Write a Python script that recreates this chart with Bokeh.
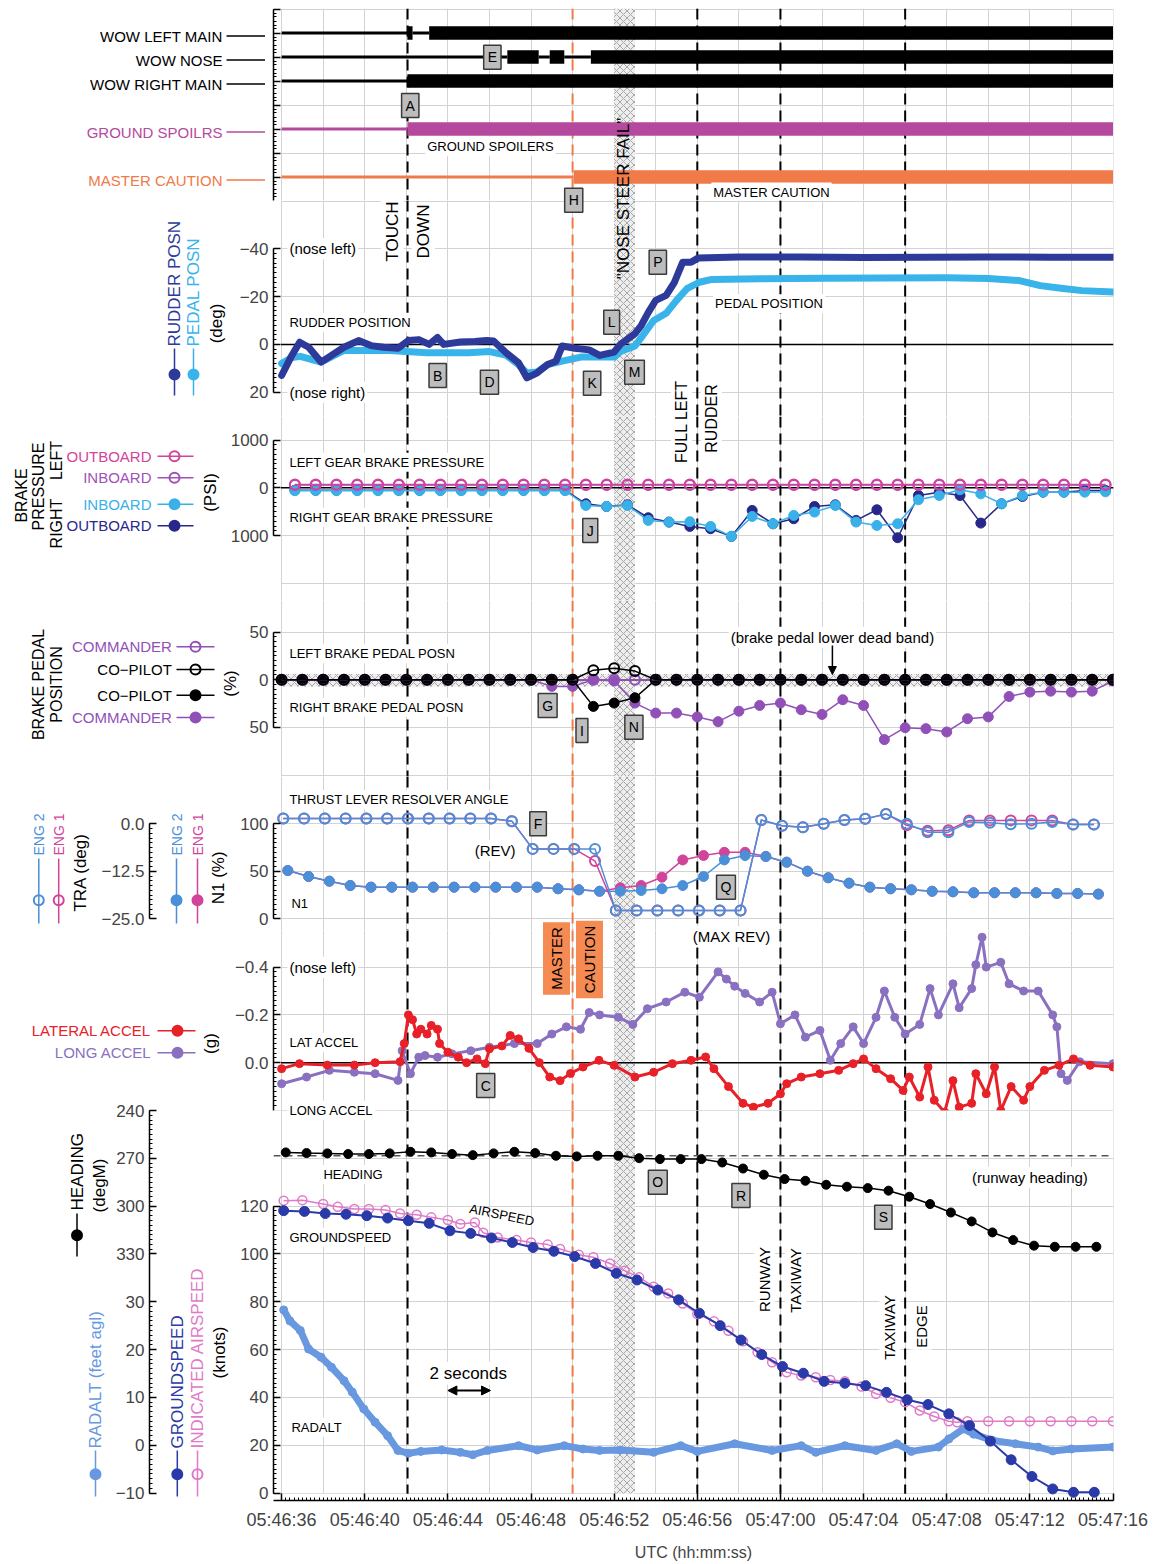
import math
import numpy as np
from bokeh.plotting import figure
from bokeh.layouts import column
from bokeh.models import (Range1d, LinearAxis, FixedTicker, Grid, Label, Span,
                          BoxAnnotation, Arrow, NormalHead, ColumnDataSource)
from bokeh.embed import file_html
from bokeh.resources import INLINE

# =============================== DATA ===============================
TIME_TICKS = [0, 4, 8, 12, 16, 20, 24, 28, 32, 36, 40]          # seconds after 05:46:36
TIME_LABELS = ["05:46:36", "05:46:40", "05:46:44", "05:46:48", "05:46:52", "05:46:56",
               "05:47:00", "05:47:04", "05:47:08", "05:47:12", "05:47:16"]

TOUCHDOWN_T = 6.06
MASTER_CAUTION_T = 14.0
FULL_LEFT_RUDDER_T = 20.0
RUNWAY_TAXIWAY_T = 24.0
TAXIWAY_EDGE_T = 30.0
NOSE_STEER_FAIL_T = (16.0, 17.0)

# discrete parameters: segment edges (s) and state per segment (0 = off/air, 1 = on/ground)
WOW_LEFT_EDGES = [0, 6.05, 6.3, 7.1, 40]
WOW_LEFT_STATE = [0, 1, 0, 1]
WOW_NOSE_EDGES = [0, 10.86, 12.37, 12.9, 13.6, 14.88, 40]
WOW_NOSE_STATE = [0, 1, 0, 1, 0, 1]
WOW_RIGHT_EDGES = [0, 6.05, 40]
WOW_RIGHT_STATE = [0, 1]
SPOILER_EDGES = [0, 6.05, 40]
SPOILER_STATE = [0, 1]
MC_EDGES = [0, 14.05, 40]
MC_STATE = [0, 1]

# rudder / pedal position (deg, + = nose right)
RUDDER_T = [0, 0.45, 0.87, 1.3, 1.9, 2.4, 3.0, 3.7, 4.3, 4.9, 5.6, 6.1, 6.6, 7.1, 7.5, 7.8,
            8.6, 9.3, 9.85, 10.2, 10.8, 11.4, 11.8, 12.3, 12.8, 13.2, 13.5, 14.1, 14.8, 15.3,
            16.0, 16.3, 16.99, 17.3, 17.65, 18.0, 18.5, 18.9, 19.3, 19.7, 20.05, 22, 25, 28,
            31, 34, 37, 40]
RUDDER_DEG = [13, 5.3, -0.9, 1.2, 7.4, 4.6, 1.2, -1.6, 0.5, 1.2, 1.6, -1.6, -2, 0, -2.9, 0,
              -1, -1.2, -1.6, -1.4, 3.5, 7.7, 14, 11.9, 8.4, 7, 0.7, 1.6, 2.3, 4.6,
              3.2, 0, -4.4, -7.9, -13.5, -18.4, -20.5, -26, -34.4, -34.4, -36.2, -36.6, -36.6,
              -36.4, -36.5, -36.6, -36.5, -36.5]
PEDAL_T = [0, 0.5, 0.9, 1.9, 3.0, 4.0, 5.0, 6.0, 7.0, 8.0, 9.0, 10.0, 10.8, 11.4, 11.8, 12.3,
           12.8, 13.5, 14.4, 15.3, 16.0, 16.3, 16.99, 17.3, 17.9, 18.5, 19.0, 19.5, 20.1, 20.7,
           23, 26, 29, 32, 34, 35.5, 36.5, 37.5, 38.5, 40]
PEDAL_DEG = [8, 5.5, 5, 7.4, 2.5, 2.5, 2.5, 3, 3.5, 3.5, 3.5, 3, 4.5, 8.5, 12, 11.5,
             8.5, 7, 5.3, 5.3, 5.3, 3, 0.7, -2.8, -10, -13, -18.4, -23.3, -26, -27.2,
             -27.5, -27.7, -27.8, -27.9, -27.6, -26.7, -24.6, -23.5, -22.5, -21.9]

# brake pressure (psi), sampled once per second
BRAKE_T = list(np.arange(40) + 0.64)
L_OUTBOARD_PSI = [70, 70, 70, 70, 70, 70, 70, 70, 70, 70, 70, 70, 70, 70, 70, 70, 70, 70, 70, 70,
                  70, 70, 70, 70, 70, 70, 70, 70, 70, 70, 70, 70, 70, 70, 70, 70, 70, 70, 70, 70]
L_INBOARD_PSI = [60, 60, 60, 60, 60, 60, 60, 60, 60, 60, 60, 60, 60, 60, 60, 60, 60, 60, 60, 60,
                 60, 60, 60, 60, 60, 60, 60, 60, 60, 60, 60, 60, 60, 60, 60, 60, 60, 60, 60, 60]
R_INBOARD_PSI = [60, 60, 60, 60, 60, 60, 60, 60, 60, 60, 60, 60, 60, 60,
                 370, 391, 370, 683, 718, 711, 809, 1018, 600, 753, 579, 509, 370, 718, 788, 753,
                 251, 161, 42, 126, 335, 161, 91, 91, 91, 84]
R_OUTBOARD_PSI = [50, 50, 50, 50, 50, 50, 50, 50, 50, 50, 50, 50, 50, 50,
                  335, 391, 356, 627, 718, 809, 857, 1018, 474, 753, 648, 391, 356, 683, 460, 1046,
                  161, 91, 161, 739, 335, 182, 91, 91, 56, 56]

# brake pedal position (%), sampled once per second
PEDAL_POS_T = list(np.arange(41) + 0.0)
L_CMDR_PCT = [0] * 41
L_COPILOT_PCT = [0, 0, 0, 0, 0, 0, 0, 0, 0, 0, 0, 0, 0, 0, 0, 10, 12, 9, 0, 0, 0,
                 0, 0, 0, 0, 0, 0, 0, 0, 0, 0, 0, 0, 0, 0, 0, 0, 0, 0, 0, 0]
R_COPILOT_PCT = [0, 0, 0, 0, 0, 0, 0, 0, 0, 0, 0, 0, 0, 0, 0, 28, 24.5, 19, 0, 0, 0,
                 0, 0, 0, 0, 0, 0, 0, 0, 0, 0, 0, 0, 0, 0, 0, 0, 0, 0, 0, 0]
R_CMDR_PCT = [0, 0, 0, 0, 0, 0, 0, 0, 0, 0, 0, 0, 0, 7, 7, 0, 1.4, 24.5, 35, 35, 39,
              44, 33, 27, 24.5, 31.5, 36.4, 21, 27, 62.8, 50.3, 51.3, 54.8, 40.9, 39, 17.6,
              13, 12, 13, 12, 1.4]

# thrust lever resolver angle (deg) and N1 (%)
TRA_T = list(np.arange(40) + 0.08)
TRA_ENG1 = [1.4, 1.4, 1.4, 1.4, 1.4, 1.4, 1.4, 1.4, 1.4, 1.4, 1.4, 0.7, -6.6, -6.6, -6.6, -9.8,
            -22.8, -22.8, -22.8, -22.8, -22.8, -22.8, -22.8, 1.0, -0.5, -0.9, 0, 1.0, 1.3, 2.6,
            -0.4, -1.8, -1.7, 0.9, 0.9, 0.9, 0.9, 0.9, -0.2, -0.2]
TRA_ENG2 = [1.4, 1.4, 1.4, 1.4, 1.4, 1.4, 1.4, 1.4, 1.4, 1.4, 1.4, 0.7, -6.6, -6.6, -6.6, -6.6,
            -22.8, -22.8, -22.8, -22.8, -22.8, -22.8, -22.8, 1.0, -0.5, -0.9, 0, 1.0, 1.3, 2.6,
            0, -2.2, -2.2, 0.5, 0.3, -0.1, 0.0, 0.5, -0.2, -0.2]
N1_T = list(np.arange(40) + 0.3)
N1_ENG1 = [50.8, 44.5, 39.6, 35, 33.3, 33.3, 33.3, 33.3, 33.3, 33.3, 33.3, 33.3, 33.3, 31.6,
           30.5, 29, 32.6, 35, 43.8, 62, 66.6, 70, 70, 65.6, 59.6, 50.1, 43.2, 37.5, 33.3, 31.6,
           30.5, 29, 28.4, 27.4, 27.4, 27.4, 27.4, 26.7, 26.7, 26]
N1_ENG2 = [50.8, 44.5, 39.6, 35, 33.3, 33.3, 33.3, 33.3, 33.3, 33.3, 33.3, 33.3, 33.3, 31.6,
           30.5, 29, 29, 29.8, 31.6, 35, 44.5, 62, 66.6, 65.6, 59.6, 50.1, 43.2, 37.5, 33.3, 31.6,
           30.5, 29, 28.4, 27.4, 27.4, 27.4, 27.4, 26.7, 26.7, 26]

# accelerations (g)
LAT_T = [0, 0.86, 2.2, 3.5, 4.5, 5.7, 5.9, 6.1, 6.3, 6.5, 6.7, 7.0, 7.2, 7.5, 7.6, 8.0, 8.5,
         8.9, 9.4, 9.8, 10.0, 10.6, 11.0, 11.4, 11.9, 12.4, 12.9, 13.4, 13.9, 14.5, 15.27, 16.0,
         17.0, 17.9, 18.8, 19.7, 20.4, 20.8, 21.5, 22.2, 22.7, 23.4, 24.0, 24.3, 25.0, 25.9,
         26.8, 27.5, 28.0, 28.6, 29.3, 29.9, 30.2, 30.7, 31.1, 31.4, 31.9, 32.3, 32.6, 33.2,
         33.4, 33.9, 34.3, 34.6, 35.1, 35.7, 36.0, 36.7, 37.4, 38.1, 38.9, 40.0]
LAT_G = [0.025, 0.004, 0.01, 0.01, 0, -0.004, -0.08, -0.2, -0.18, -0.12, -0.14, -0.12, -0.156,
         -0.14, -0.08, -0.044, -0.023, 0, -0.016, 0.004, -0.058, -0.07, -0.114, -0.1, -0.06, 0,
         0.06, 0.075, 0.045, 0.018, -0.01, 0.011, 0.06, 0.04, 0.004, -0.01, -0.024, 0.025, 0.1,
         0.17, 0.186, 0.17, 0.13, 0.088, 0.06, 0.046, 0.032, 0.004, -0.016, 0.025, 0.067, 0.116,
         0.06, 0.144, 0.018, 0.157, 0.207, 0.075, 0.186, 0.17, 0.046, 0.13, 0.018, 0.2, 0.1,
         0.157, 0.1, 0.032, 0.011, -0.016, 0.011, 0.018]
LONG_T = [0, 1.2, 2.3, 3.5, 4.5, 5.6, 5.8, 6.2, 6.6, 6.9, 7.5, 8.2, 9.1, 10.0, 11.2, 12.3, 13.0,
          13.7, 14.38, 14.8, 15.3, 16.2, 16.9, 17.6, 18.5, 19.4, 20.1, 21.0, 21.4, 21.8, 22.3,
          23.0, 23.6, 24.0, 24.7, 25.2, 25.9, 26.4, 26.9, 27.5, 28.0, 28.6, 29.0, 29.5, 30.0,
          30.7, 31.2, 31.6, 32.3, 32.6, 33.2, 33.4, 33.7, 33.9, 34.6, 35.0, 35.7, 36.4, 37.1,
          37.3, 37.5, 37.8, 38.4, 40.0]
LONG_G = [0.088, 0.06, 0.032, 0.04, 0.046, 0.074, -0.05, 0.046, -0.023, -0.03, -0.023, -0.037,
          -0.05, -0.065, -0.08, -0.08, -0.12, -0.15, -0.14, -0.21, -0.2, -0.19, -0.16, -0.226,
          -0.254, -0.295, -0.274, -0.38, -0.35, -0.32, -0.29, -0.254, -0.295, -0.163, -0.2,
          -0.107, -0.135, -0.01, -0.08, -0.15, -0.08, -0.19, -0.3, -0.19, -0.12, -0.16, -0.31,
          -0.2, -0.33, -0.23, -0.31, -0.41, -0.525, -0.40, -0.42, -0.33, -0.3, -0.3, -0.2,
          -0.15, 0.046, 0.074, -0.004, 0.004]

# heading (degM)
HDG_T = list(np.arange(40) + 0.2)
HDG_DEG = [266.3, 266.7, 266.9, 267.3, 267.3, 266.9, 265.9, 266.3, 267.3, 268, 266.9, 265.9,
           266.7, 268.4, 268.8, 268.4, 268.4, 269.9, 270.5, 270.5, 270.5, 272.6, 276.4, 280.3,
           283, 284.1, 286.6, 287.8, 288.7, 290.3, 294.1, 298.7, 304, 309.6, 316.5, 321.3,
           324.8, 325.5, 325.5, 325.5]
RUNWAY_HDG = 268.4

# groundspeed / indicated airspeed (knots), radio altitude (ft)
GS_T = list(np.arange(40) + 0.1)
GS_KT = [118.1, 117.8, 116.9, 116.6, 116, 115, 113.9, 112.8, 109.7, 108.6, 106.7, 104.8, 102.7,
         101.1, 98.9, 96, 91.9, 89.1, 84.9, 80.8, 75.2, 70, 64, 57.9, 52.9, 50.1, 46.7, 45.9,
         44.9, 42.1, 39, 37, 33.1, 28.2, 21.7, 13.9, 6.9, 1.7, 0.3, 0.3]
IAS_T = [0.1, 1.0, 2.0, 2.7, 3.5, 4.2, 5.0, 5.7, 6.5, 7.2, 8.0, 8.6, 9.3, 9.7, 10.4, 11.3, 12.0,
         12.8, 13.4, 14.3, 15.0, 15.8, 16.5, 17.2, 17.9, 18.6, 19.3, 20.0, 20.8, 21.5, 22.2, 22.9,
         23.6, 24.3, 25.0, 25.7, 26.4, 27.1, 27.9, 28.6, 29.3, 30.0, 30.7, 31.4, 32.1, 32.5,
         33.0, 34.0, 35.0, 36.0, 37.0, 38.0, 39.0, 40.0]
IAS_KT = [122.3, 122.5, 120.9, 119.7, 118.8, 118.8, 118.4, 116.9, 116.4, 115.3, 114.2, 112.5,
          113.2, 108.9, 106.9, 105.8, 104.8, 103.9, 102.1, 99.7, 98.6, 96, 93, 90.2, 86.3, 83.5,
          79.3, 74.9, 71.8, 67.9, 63.5, 58.9, 54.7, 50.5, 49.1, 48.4, 47.3, 46.7, 44.5, 41.5,
          39.8, 38, 34.5, 32, 30, 29.6, 30, 30, 30, 30, 30, 30, 30, 30]
RADALT_T = [0.1, 0.4, 0.9, 1.3, 1.9, 2.4, 3.0, 3.4, 3.95, 4.5, 5.1, 5.6, 6.1, 6.7, 7.7, 8.6, 9.2,
            9.9, 11.4, 12.3, 13.6, 14.5, 15.3, 16.3, 17.9, 19.2, 20.0, 21.8, 23.6, 25.0, 25.7,
            27.1, 28.6, 29.6, 30.3, 31.6, 32.1, 32.8, 33.3, 34.2, 35.3, 36.4, 37.1, 38.0, 40.0]
RADALT_FT = [28.3, 26, 24, 20.1, 18.4, 16.3, 13.5, 11.1, 7.6, 4.8, 2, -1.1, -1.7, -1.3, -1, -1.5,
             -2, -1.1, -0.1, -1, -0.1, -0.8, -1.1, -1.0, -1.5, -0.1, -1.3, 0.3, -1.1, -0.1, -1.5,
             -0.1, -1.1, 0.3, -1.3, -0.4, 1.3, 3.4, 2.3, 1.0, 0.3, -0.4, -1.2, -0.8, -0.4]

# axis tick values
RUDDER_TICKS = [-40, -20, 0, 20]
BRAKE_TICKS = [1000, 0, -1000]
PEDAL_TICKS = [50, 0, -50]
N1_TICKS = [0, 50, 100]
TRA_TICKS = [0.0, -12.5, -25.0]
ACCEL_TICKS = [-0.4, -0.2, 0.0, 0.2]
SPEED_TICKS = [0, 20, 40, 60, 80, 100, 120]
HEADING_TICKS = [240, 270, 300, 330]
RADALT_TICKS = [30, 20, 10, 0, -10]

# =============================== STYLE / LAYOUT ===============================
FONT = "Liberation Sans"
GRID_C = "#d3d3d3"
RUDDER_C = "#2e3a9a"
PEDAL_C = "#38b4ea"
SPOILER_C = "#b5499e"
MC_C = "#f07a48"
L_OUT_C = "#d2449c"
L_IN_C = "#a050b8"
R_IN_C = "#3ab0e8"
R_OUT_C = "#28288a"
CMDR_C = "#9050b8"
ENG1_C = "#d0449a"
ENG2_C = "#4a8fd8"
LAT_C = "#e82028"
LONG_C = "#8a70c0"
RADALT_C = "#6898e0"
GS_C = "#2a3aa8"
IAS_C = "#e07ac8"
BOX_FILL = "#bdbdbd"

PXS = 20.785            # px per second
T0_PX = 281.2           # page x of t = 0
FRAME_LEFT_PX = 273.1
FRAME_W = 840
X0 = (FRAME_LEFT_PX - T0_PX) / PXS
X1 = X0 + FRAME_W / PXS
XR = Range1d(X0, X1)
BORDER_LEFT = 273
BORDER_RIGHT = 37
TB, BB = 100, 100
G_BOTTOM = 60
PAGE_W = BORDER_LEFT + FRAME_W + BORDER_RIGHT
PAGE_H = 1500 + G_BOTTOM


def tx(px):
    return (px - T0_PX) / PXS


def px_t(t):
    return T0_PX + t * PXS


class Map:
    """linear map value -> page y pixel: p = p0 + s * (v - v0)"""
    def __init__(self, p0, v0, s):
        self.p0, self.v0, self.s = p0, v0, s

    def v(self, py):
        return self.v0 + (py - self.p0) / self.s

    def p(self, v):
        return self.p0 + self.s * (v - self.v0)


def no_align(p):
    if "frame_align" in p.properties():
        p.frame_align = False


def make_fig(top, bot, m, extras=None, first=False, last=False):
    p = figure(x_range=XR, y_range=Range1d(start=m.v(bot), end=m.v(top)),
               frame_width=FRAME_W, frame_height=bot - top,
               min_border_left=BORDER_LEFT, min_border_right=BORDER_RIGHT,
               min_border_top=top if first else TB,
               min_border_bottom=G_BOTTOM if last else BB,
               x_axis_type=None, y_axis_type=None, title=None,
               toolbar_location=None, output_backend="svg",
               background_fill_alpha=0, border_fill_alpha=0, outline_line_color=None)
    no_align(p)
    if extras:
        p.extra_y_ranges = {k: Range1d(start=mm.v(bot), end=mm.v(top)) for k, mm in extras.items()}
    if not first:
        p.margin = (-(BB + TB), 0, 0, 0)
    return p


def hatch_box(**kw):
    return BoxAnnotation(level="underlay", fill_color="#eeeeee", fill_alpha=1.0, line_color=None,
                         hatch_pattern="x", hatch_color="#a8a8a8", hatch_scale=7, hatch_weight=1,
                         **kw)


def decorate(p, grid_vals, zero=False, band=None, bottom_cover=None):
    p.add_layout(Grid(dimension=0, ticker=FixedTicker(ticks=list(range(0, 41, 2))),
                      grid_line_color=GRID_C, grid_line_width=1))
    p.add_layout(Grid(dimension=1, ticker=FixedTicker(ticks=grid_vals),
                      grid_line_color=GRID_C, grid_line_width=1))
    p.add_layout(hatch_box(left=NOSE_STEER_FAIL_T[0], right=NOSE_STEER_FAIL_T[1]))
    if band is not None:
        p.add_layout(hatch_box(bottom=band[0], top=band[1]))
    if zero:
        p.add_layout(Span(location=0, dimension="width", line_color="black", line_width=1.5,
                          level="underlay"))
    for t in (TOUCHDOWN_T, FULL_LEFT_RUDDER_T, RUNWAY_TAXIWAY_T, TAXIWAY_EDGE_T):
        p.add_layout(Span(location=t, dimension="height", line_color="black", line_width=2,
                          line_dash="11 6", level="underlay"))
    p.add_layout(Span(location=MASTER_CAUTION_T, dimension="height", line_color=MC_C,
                      line_width=2, line_dash="11 6", level="underlay"))
    p.add_layout(BoxAnnotation(right=-0.03, level="underlay", fill_color="white", fill_alpha=1.0,
                               line_color=None))
    if bottom_cover is not None:
        p.add_layout(BoxAnnotation(top=bottom_cover, level="underlay", fill_color="white",
                                   fill_alpha=1.0, line_color=None))


def yaxis(p, ticks, labels, minor, bounds, range_name="default", label_size="17px"):
    ax = LinearAxis(ticker=FixedTicker(ticks=list(ticks), minor_ticks=list(minor)),
                    bounds=bounds, major_label_overrides={t: s for t, s in zip(ticks, labels)},
                    major_tick_in=7, major_tick_out=0, minor_tick_in=3, minor_tick_out=0,
                    axis_line_width=1.5, major_tick_line_width=1.5, minor_tick_line_width=1,
                    major_label_text_font=FONT, major_label_text_font_size=label_size,
                    major_label_standoff=5)
    if range_name != "default":
        ax.y_range_name = range_name
    p.add_layout(ax, "left")
    return ax


def spacer_axis(p, width):
    ax = LinearAxis(ticker=FixedTicker(ticks=[]), axis_line_color=None,
                    major_tick_line_color=None, minor_tick_line_color=None,
                    major_label_text_font_size="1px", major_label_standoff=0,
                    axis_label=" ", axis_label_text_font_size="1px",
                    axis_label_standoff=width)
    p.add_layout(ax, "left")


def label(p, text, x, y, size="13px", color="black", angle=0.0, align="left",
          baseline="middle", bg=None, border=None, pad=0, range_name="default"):
    kw = dict(x=x, y=y, text=text, text_font=FONT, text_font_size=size, text_color=color,
              angle=angle, text_align=align, text_baseline=baseline)
    if range_name != "default":
        kw["y_range_name"] = range_name
    if bg:
        kw.update(background_fill_color=bg, background_fill_alpha=1.0)
    if border:
        kw.update(border_line_color=border, border_line_width=1.5)
    if pad:
        kw["padding"] = pad
    p.add_layout(Label(**kw))


def box_letter(p, m, letter, t, py):
    label(p, letter, t, m.v(py), size="14px", align="center", bg=BOX_FILL, border="#3a3a3a",
          pad=4)


def in_text(p, m, text, px, py, size="13px", align="left", angle=0.0, bg="white"):
    label(p, text, tx(px), m.v(py), size=size, align=align, angle=angle, bg=bg, pad=2)


def in_text_t(p, m, text, t, py, size="13px", align="center", angle=0.0, bg="white"):
    label(p, text, t, m.v(py), size=size, align=align, angle=angle, bg=bg, pad=2)


def series(p, t, v, color, size=9, open_marker=False, lw=1.5, range_name="default", mlw=2):
    kw = {} if range_name == "default" else {"y_range_name": range_name}
    src = ColumnDataSource(dict(t=list(t), v=list(v)))
    p.line("t", "v", source=src, line_color=color, line_width=lw, **kw)
    p.scatter("t", "v", source=src, marker="circle", size=size, line_color=color,
              line_width=mlw if open_marker else 1,
              fill_color=None if open_marker else color, **kw)


def minor(a, b, step):
    return list(np.round(np.arange(a, b + step / 2, step), 6))


# =============================== PANEL A : discrete ===============================
mA = Map(8.5, 0, 24)
pA = make_fig(8, 200, mA, first=True)
decorate(pA, list(range(0, 9)))
yaxis(pA, [0, 1, 2, 3, 4, 5, 6, 7, 8], [""] * 9, minor(0, 8, 1 / 6), (0, 8))
ROWS = [("WOW LEFT MAIN", 1, WOW_LEFT_EDGES, WOW_LEFT_STATE, "black"),
        ("WOW NOSE", 2, WOW_NOSE_EDGES, WOW_NOSE_STATE, "black"),
        ("WOW RIGHT MAIN", 3, WOW_RIGHT_EDGES, WOW_RIGHT_STATE, "black"),
        ("GROUND SPOILRS", 5, SPOILER_EDGES, SPOILER_STATE, SPOILER_C),
        ("MASTER CAUTION", 7, MC_EDGES, MC_STATE, MC_C)]
for name, row, edges, states, col in ROWS:
    thin, thick = 3.2 / 24, 13.5 / 24
    src = ColumnDataSource(dict(y=[row] * len(states), left=edges[:-1], right=edges[1:],
                                h=[thick if s else thin for s in states]))
    pA.hbar(y="y", left="left", right="right", height="h", source=src, fill_color=col,
            line_color=None)
in_text_t(pA, mA, "GROUND SPOILERS", tx(490), 145.7)
in_text_t(pA, mA, "MASTER CAUTION", 23.57, 191.5)
box_letter(pA, mA, "A", 6.19, 105)
box_letter(pA, mA, "E", 10.14, 56.7)

# =============================== PANEL B : rudder ===============================
mB = Map(343.9, 0, 2.39)
pB = make_fig(200, 416, mB)
decorate(pB, [-60, -40, -20, 20], zero=True)
yaxis(pB, RUDDER_TICKS, ["\u221240", "\u221220", "0", "20"], minor(-40, 20, 2), (-40, 20))
pB.line(PEDAL_T, PEDAL_DEG, line_color=PEDAL_C, line_width=7, line_join="round",
        line_cap="round")
pB.line(RUDDER_T, RUDDER_DEG, line_color=RUDDER_C, line_width=7, line_join="round",
        line_cap="round")
in_text(pB, mB, "(nose left)", 287, 248.3, size="15px")
in_text(pB, mB, "RUDDER POSITION", 287, 321.7)
in_text(pB, mB, "(nose right)", 287, 391.7, size="15px")
in_text_t(pB, mB, "PEDAL POSITION", 23.46, 303.3)
label(pB, "TOUCH", tx(392), mB.v(231), size="17px", angle=math.pi / 2, align="center",
      bg="white", pad=2)
label(pB, "DOWN", tx(423), mB.v(231), size="17px", angle=math.pi / 2, align="center",
      bg="white", pad=2)
for L, t, py in [("B", 7.51, 375), ("D", 10.0, 381.7), ("K", 14.94, 382.7),
                 ("L", 15.88, 321.7), ("M", 16.98, 371.7), ("P", 18.1, 261.7)]:
    box_letter(pB, mB, L, t, py)

# =============================== PANEL C : brake pressure ===============================
mC = Map(487.3, 0, -0.04775)
mCr = Map(487.3, 0, 0.04775)
pC = make_fig(416, 600, mC, extras={"rbrake": mCr})
decorate(pC, [1000, -1000, -2000], zero=True)
yaxis(pC, BRAKE_TICKS, ["1000", "0", "1000"], minor(-1000, 1000, 100), (-1000, 1000))
series(pC, BRAKE_T, R_OUTBOARD_PSI, R_OUT_C, size=10, range_name="rbrake")
series(pC, BRAKE_T, R_INBOARD_PSI, R_IN_C, size=10, range_name="rbrake")
series(pC, BRAKE_T, L_INBOARD_PSI, L_IN_C, size=10, open_marker=True)
series(pC, BRAKE_T, L_OUTBOARD_PSI, L_OUT_C, size=10, open_marker=True)
in_text(pC, mC, "LEFT GEAR BRAKE PRESSURE", 287, 461.7)
in_text(pC, mC, "RIGHT GEAR BRAKE PRESSURE", 287, 516.7)
box_letter(pC, mC, "J", 14.85, 530)

# =============================== PANEL D : brake pedal ===============================
mD = Map(679.2, 0, -0.954)
mDr = Map(679.2, 0, 0.954)
pD = make_fig(600, 776, mD, extras={"rpedal": mDr})
decorate(pD, [50, -50, -100], zero=True, band=(-7, 6))
yaxis(pD, PEDAL_TICKS, ["50", "0", "50"], minor(-50, 50, 5), (-50, 50))
series(pD, PEDAL_POS_T, R_CMDR_PCT, CMDR_C, size=10, range_name="rpedal")
series(pD, PEDAL_POS_T, R_COPILOT_PCT, "black", size=10, range_name="rpedal")
series(pD, PEDAL_POS_T, L_CMDR_PCT, CMDR_C, size=10, open_marker=True)
series(pD, PEDAL_POS_T, L_COPILOT_PCT, "black", size=10, open_marker=True)
in_text(pD, mD, "LEFT BRAKE PEDAL POSN", 287, 653.3)
in_text(pD, mD, "RIGHT BRAKE PEDAL POSN", 287, 706.7)
in_text_t(pD, mD, "(brake pedal lower dead band)", 26.5, 636.7, size="15px")
pD.add_layout(Arrow(x_start=26.5, y_start=mD.v(645), x_end=26.5, y_end=mD.v(674),
                    line_width=1.5, start=None,
                    end=NormalHead(size=8, fill_color="black", line_color="black")))
for L, t, py in [("G", 12.8, 705), ("I", 14.45, 730), ("N", 16.95, 726.7)]:
    box_letter(pD, mD, L, t, py)

# =============================== PANEL E : TRA / N1 ===============================
mE = Map(918.3, 0, -0.95)
mEt = Map(823.3, 0, -3.8)
pE = make_fig(776, 930, mE, extras={"tra": mEt})
decorate(pE, [0, 50, 100])
yaxis(pE, N1_TICKS, ["0", "50", "100"], minor(0, 100, 5), (0, 100))
spacer_axis(pE, 84)
yaxis(pE, TRA_TICKS, ["0.0", "\u221212.5", "\u221225.0"], minor(-25, 0, 1.25), (-25, 0),
      range_name="tra")
series(pE, N1_T, N1_ENG1, ENG1_C, size=10)
series(pE, N1_T, N1_ENG2, ENG2_C, size=10)
series(pE, TRA_T, TRA_ENG1, ENG1_C, size=10, open_marker=True, range_name="tra")
series(pE, TRA_T, TRA_ENG2, ENG2_C, size=10, open_marker=True, range_name="tra")
in_text(pE, mE, "THRUST LEVER RESOLVER ANGLE", 287, 799.3)
in_text_t(pE, mE, "(REV)", 10.27, 850, size="15px")
in_text(pE, mE, "N1", 289, 903.3)
for L, t, py in [("F", 12.34, 823.3), ("Q", 21.38, 886.7)]:
    box_letter(pE, mE, L, t, py)

# =============================== PANEL F : accelerations ===============================
mF = Map(1062.2, 0, 239)
pF = make_fig(930, 1110, mF)
decorate(pF, [-0.4, -0.2, 0.2], zero=True)
yaxis(pF, ACCEL_TICKS, ["\u22120.4", "\u22120.2", "0.0", "0.2"], minor(-0.4, 0.2, 0.02),
      (-0.4, 0.2))
pF.line(LONG_T, LONG_G, line_color=LONG_C, line_width=3)
pF.scatter(LONG_T, LONG_G, marker="circle", size=8, fill_color=LONG_C, line_color=LONG_C)
pF.line(LAT_T, LAT_G, line_color=LAT_C, line_width=3)
pF.scatter(LAT_T, LAT_G, marker="circle", size=8, fill_color=LAT_C, line_color=LAT_C)
in_text(pF, mF, "(nose left)", 287, 966.7, size="15px")
in_text(pF, mF, "LAT ACCEL", 287, 1041.7)
box_letter(pF, mF, "C", 9.82, 1085)

# =============================== PANEL G : heading / speed / radalt ===============================
mG = Map(1492.5, 0, -2.3906)
mGh = Map(mG.p(120), 300, -mG.s / 1.5)      # heading: 30 deg per 20 kt grid step
mGr = Map(mG.p(20), 0, 2 * mG.s)            # radalt: 10 ft per 20 kt grid step
pG = make_fig(1110, 1500, mG, extras={"heading": mGh, "radalt": mGr}, last=True)
decorate(pG, [0, 20, 40, 60, 80, 100, 120, 140, 160], bottom_cover=-0.35)
yaxis(pG, SPEED_TICKS, [str(v) for v in SPEED_TICKS], minor(0, 120, 2), (0, 120))
spacer_axis(pG, 84)
outer_pos = [120 - (h - 300) / 1.5 for h in HEADING_TICKS] + [20 + 2 * r for r in RADALT_TICKS]
outer_lab = [str(h) for h in HEADING_TICKS] + [str(r).replace("-", "\u2212") for r in RADALT_TICKS]
outer_minor = [v for v in minor(0, 160, 2) if not (80 < v < 100)]
yaxis(pG, outer_pos, outer_lab, outer_minor, (0, 160))
pG.add_layout(Span(location=RUNWAY_HDG, dimension="width", y_range_name="heading",
                   line_color="#555555", line_width=1.5, line_dash="7 5", level="underlay"))
series(pG, HDG_T, HDG_DEG, "black", size=9, range_name="heading")
pG.line(RADALT_T, RADALT_FT, y_range_name="radalt", line_color=RADALT_C, line_width=7,
        line_join="round")
pG.scatter(RADALT_T, RADALT_FT, y_range_name="radalt", marker="circle", size=8,
           fill_color=RADALT_C, line_color=RADALT_C)
series(pG, IAS_T, IAS_KT, IAS_C, size=9, open_marker=True, lw=1.5, mlw=1.5)
series(pG, GS_T, GS_KT, GS_C, size=10, lw=2)
in_text_t(pG, mG, "HEADING", 3.44, 1174)
in_text_t(pG, mG, "(runway heading)", 36.0, 1176.7, size="15px")
in_text_t(pG, mG, "AIRSPEED", 10.6, 1214.3, angle=-0.2, bg=None)
in_text(pG, mG, "GROUNDSPEED", 287, 1236.7)
in_text(pG, mG, "RADALT", 289, 1426.7)
in_text_t(pG, mG, "2 seconds", 8.98, 1372.7, size="17px")
pG.add_layout(Arrow(x_start=8.0, y_start=mG.v(1390), x_end=10.05, y_end=mG.v(1390),
                    line_width=2,
                    start=NormalHead(size=9, fill_color="black", line_color="black"),
                    end=NormalHead(size=9, fill_color="black", line_color="black")))
for text, t, py in [("RUNWAY", 23.24, 1279), ("TAXIWAY", 24.73, 1280),
                    ("TAXIWAY", 29.27, 1327), ("EDGE", 30.78, 1326)]:
    label(pG, text, t, mG.v(py), size="15px", angle=math.pi / 2, align="center",
          bg="white", pad=2)
for L, t, py in [("O", 18.1, 1181.7), ("R", 22.1, 1195), ("S", 28.95, 1216.7)]:
    box_letter(pG, mG, L, t, py)

xax = LinearAxis(ticker=FixedTicker(ticks=TIME_TICKS, minor_ticks=minor(0, 40, 0.2)),
                 major_label_overrides={t: s for t, s in zip(TIME_TICKS, TIME_LABELS)},
                 major_tick_in=7, major_tick_out=0, minor_tick_in=3, minor_tick_out=0,
                 axis_line_width=1.5, major_tick_line_width=1.5, minor_tick_line_width=1,
                 major_label_text_font=FONT, major_label_text_font_size="18px",
                 major_label_standoff=9, axis_label="UTC (hh:mm:ss)",
                 axis_label_text_font=FONT, axis_label_text_font_size="16px",
                 axis_label_text_font_style="normal", axis_label_standoff=11)
pG.add_layout(xax, "below")

# =============================== OVERLAY : page-level annotation layer ===============================
# (legend keys / labels in the left margin and notes that straddle two panels)
ov = figure(x_range=Range1d(0, PAGE_W), y_range=Range1d(PAGE_H, 0),
            frame_width=PAGE_W, frame_height=PAGE_H, min_border=0,
            min_border_left=0, min_border_right=0, min_border_top=0, min_border_bottom=0,
            x_axis_type=None, y_axis_type=None, title=None, toolbar_location=None,
            output_backend="svg", background_fill_alpha=0, border_fill_alpha=0,
            outline_line_color=None)
no_align(ov)
ov.margin = (-PAGE_H, 0, 0, 0)


def o_text(text, x, y, size="15px", color="black", angle=0.0, align="left", bg=None, pad=0,
           border=None):
    label(ov, text, x, y, size=size, color=color, angle=angle, align=align, bg=bg, pad=pad,
          border=border)


def o_key(x, y, color, filled):
    ov.scatter([x], [y], marker="circle", size=10, line_color=color, line_width=2,
               fill_color=color if filled else None)


def o_hleg(text, py, color, text_right, l0, l1, key=None, kx=None, size="15px"):
    o_text(text, text_right, py, size=size, color=color, align="right")
    ov.segment(x0=[l0], y0=[py], x1=[l1], y1=[py], line_color=color, line_width=1.5)
    if key is not None:
        o_key(kx, py, color, key == "filled")


def o_vleg(text, px, py_bottom, color, l0, l1, key, ky, size="17px"):
    o_text(text, px, py_bottom, size=size, color=color, angle=math.pi / 2, align="left")
    ov.segment(x0=[px], y0=[l0], x1=[px], y1=[l1], line_color=color, line_width=1.5)
    o_key(px, ky, color, key == "filled")


def o_rot(text, px, py, size="16px", color="black", bg=None):
    o_text(text, px, py, size=size, color=color, angle=math.pi / 2, align="center", bg=bg,
           pad=2 if bg else 0)


# panel A keys
for name, row, edges, states, col in ROWS:
    o_hleg(name, mA.p(row), col, 222, 226, 264.5)
# panel B
o_vleg("RUDDER POSN", 174, 343, RUDDER_C, 345, 392, "filled", 371)
o_vleg("PEDAL POSN", 193, 343, PEDAL_C, 345, 392, "filled", 371)
o_rot("(deg)", 216, 320, size="17px")
# panel C
o_rot("BRAKE", 21, 492)
o_rot("PRESSURE", 38.3, 483)
o_rot("RIGHT", 55.5, 520)
o_rot("LEFT", 55.5, 457)
o_hleg("OUTBOARD", 452.7, L_OUT_C, 151, 157, 193, "open", 174)
o_hleg("INBOARD", 474.3, L_IN_C, 151, 157, 193, "open", 174)
o_hleg("INBOARD", 500.7, R_IN_C, 151, 157, 193, "filled", 174)
o_hleg("OUTBOARD", 522.3, R_OUT_C, 151, 157, 193, "filled", 174)
o_rot("(PSI)", 209.7, 489, size="17px")
# panel D
o_rot("BRAKE PEDAL", 38.3, 681)
o_rot("POSITION", 55.5, 681)
o_hleg("COMMANDER", 643.3, CMDR_C, 171.4, 176, 214, "open", 195)
o_hleg("CO\u2212PILOT", 666, "black", 171.4, 176, 214, "open", 195)
o_hleg("CO\u2212PILOT", 691.7, "black", 171.4, 176, 214, "filled", 195)
o_hleg("COMMANDER", 714, CMDR_C, 171.4, 176, 214, "filled", 195)
o_rot("(%)", 229.6, 680, size="17px")
# panel E
o_vleg("ENG 2", 38.3, 852, ENG2_C, 855, 920, "open", 896.7, size="14px")
o_vleg("ENG 1", 58.2, 852, ENG1_C, 855, 920, "open", 896.7, size="14px")
o_rot("TRA  (deg)", 80.4, 866.5, size="17px")
o_vleg("ENG 2", 176, 852, ENG2_C, 855, 920, "filled", 896.7, size="14px")
o_vleg("ENG 1", 197, 852, ENG1_C, 855, 920, "filled", 896.7, size="14px")
o_rot("N1  (%)", 218, 872, size="17px")
# panel F
o_hleg("LATERAL ACCEL", 1027.3, LAT_C, 151, 157, 195, "filled", 177)
o_hleg("LONG ACCEL", 1049.3, LONG_C, 151, 157, 195, "filled", 177)
o_rot("(g)", 209.7, 1040, size="17px")
# panel G
o_vleg("HEADING", 76.5, 1207, "black", 1210, 1253, "filled", 1231.7)
o_rot("(degM)", 98.7, 1182, size="17px")
o_vleg("RADALT  (feet agl)", 95, 1445, RADALT_C, 1447, 1493, "filled", 1470.7)
o_vleg("GROUNDSPEED", 176.8, 1445, GS_C, 1447, 1493, "filled", 1470.7)
o_vleg("INDICATED AIRSPEED", 197, 1445, IAS_C, 1447, 1493, "open", 1470.7)
o_rot("(knots)", 219, 1349, size="17px")

# notes straddling two panels
o_rot("\"NOSE STEER FAIL\"", px_t(16.45), 195, size="17px")
o_text("H", px_t(14.05), 196.7, size="14px", align="center", bg=BOX_FILL, pad=4,
       border="#3a3a3a")
o_rot("FULL  LEFT", 681, 416, size="16px", bg="white")
o_rot("RUDDER", 711, 415, size="16px", bg="white")
o_text("MASTER", 556, 955, size="15px", angle=math.pi / 2, align="center", bg="#f58a52", pad=5)
o_text("CAUTION", 589, 956, size="15px", angle=math.pi / 2, align="center", bg="#f58a52", pad=5)
o_text("(MAX REV)", px_t(21.64), 933.3, size="15px", align="center", bg="white", pad=2)
o_text("LONG ACCEL", 287, 1106.7, size="13px", bg="white", pad=2)

layout = column(pA, pB, pC, pD, pE, pF, pG, ov)
with open("out.html", "w") as f:
    f.write(file_html(layout, INLINE))
